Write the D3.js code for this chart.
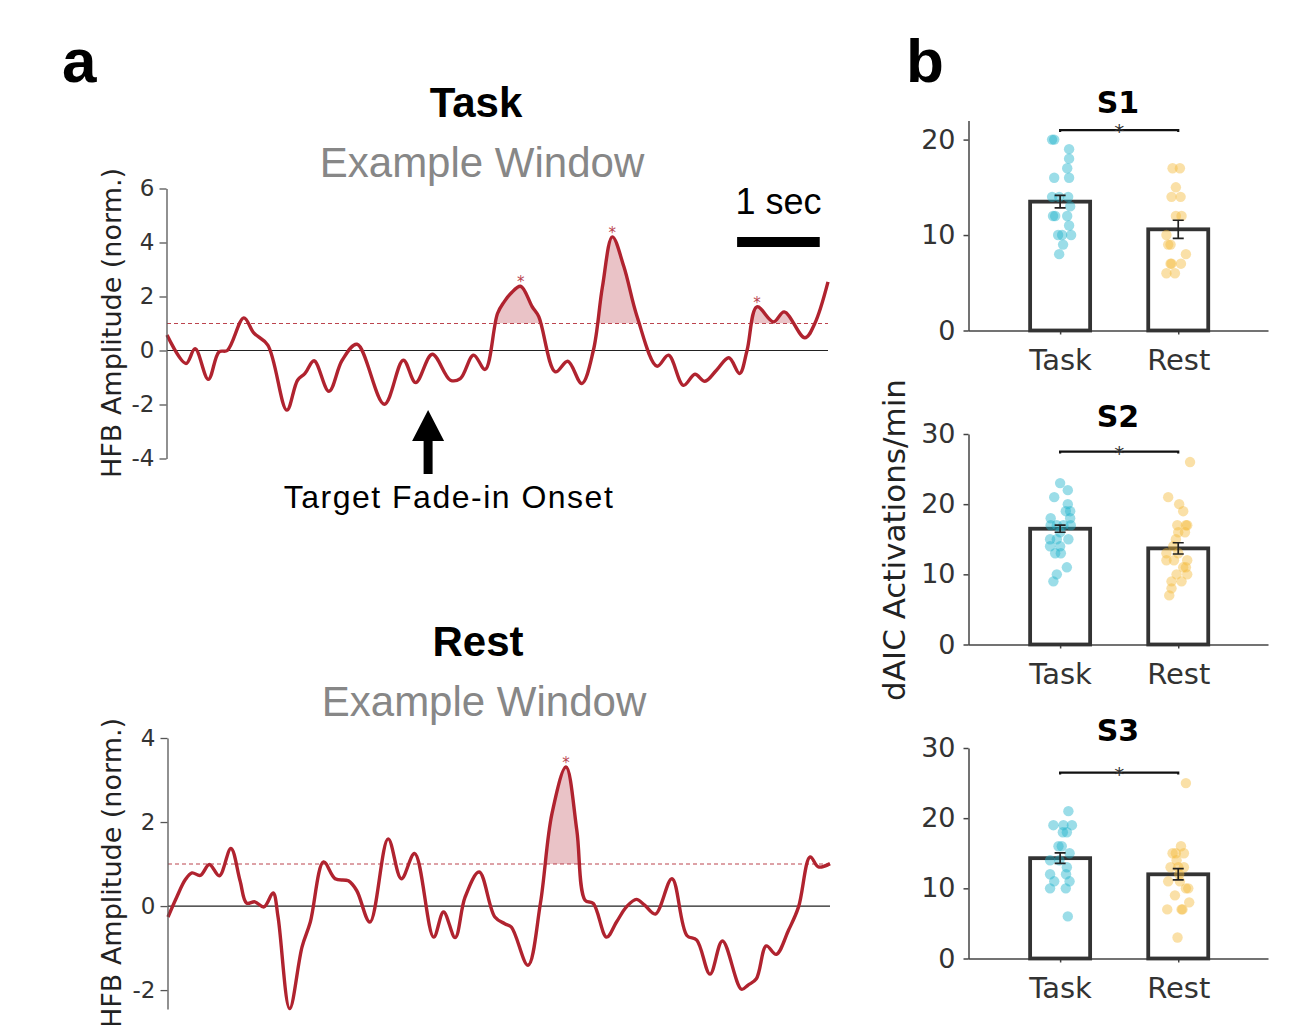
<!DOCTYPE html>
<html>
<head>
<meta charset="utf-8">
<script src="https://cdn.jsdelivr.net/npm/d3@7"></script>
<style>
  body { margin: 0; background: #fff; }
</style>
</head>
<body>
<svg id="fig" width="1295" height="1025"></svg>
<script>
// ---------- data: panel a (HFB traces, seconds / normalised amplitude) ----------
const taskTime = [0.00,0.23,0.34,0.50,0.63,0.73,0.93,1.05,1.22,1.45,1.58,1.67,1.78,1.96,2.12,2.30,2.63,2.86,3.01,3.21,3.43,3.55,3.71,3.85,4.00,4.08,4.16,4.28,4.42,4.50,4.70,4.85,5.02,5.16,5.27,5.39,5.53,5.69,5.93,6.07,6.25,6.39,6.51,6.65,6.80,6.93,7.02,7.14,7.34,7.47,7.72,7.84,8.00];
const taskAmp  = [0.57,-0.48,0.07,-1.07,-0.05,0.00,1.21,0.65,0.20,-2.21,-1.10,-0.85,-0.38,-1.51,-0.36,0.23,-1.99,-0.36,-1.19,-0.14,-1.10,-1.04,-0.17,-0.70,1.37,1.80,2.11,2.38,1.62,1.25,-0.79,-0.40,-1.22,0.00,2.36,4.21,3.10,1.25,-0.58,-0.17,-1.29,-0.88,-1.14,-0.73,-0.27,-0.85,0.00,1.62,1.06,1.43,0.47,1.00,2.54];
const taskEvents = [[3.95, 4.58], [5.18, 5.72], [7.05, 7.75]];

const restTime = [0.00,0.105,0.21,0.29,0.39,0.50,0.62,0.76,0.87,0.95,1.05,1.16,1.27,1.33,1.47,1.62,1.72,1.88,2.02,2.18,2.28,2.44,2.66,2.82,2.98,3.21,3.33,3.47,3.59,3.76,3.95,4.07,4.15,4.35,4.50,4.64,4.81,4.94,5.04,5.14,5.30,5.42,5.54,5.66,5.76,5.89,6.09,6.27,6.39,6.55,6.70,6.93,7.01,7.11,7.23,7.35,7.50,7.62,7.76,7.86,8.00];
const restAmp  = [-0.26,0.21,0.63,0.79,0.73,0.99,0.72,1.37,0.61,0.07,0.10,-0.02,0.31,-0.26,-2.44,-0.97,-0.38,1.05,0.65,0.60,0.37,-0.38,1.60,0.65,1.25,-0.74,-0.14,-0.75,0.21,0.81,-0.26,-0.42,-0.50,-1.41,0.06,2.20,3.31,1.81,0.14,0.06,-0.74,-0.38,-0.02,0.16,0.02,-0.19,0.65,-0.70,-0.81,-1.62,-0.83,-1.98,-1.88,-1.73,-0.95,-1.15,-0.57,-0.02,1.17,0.93,1.01];
const restEvents = [[4.50, 5.00]];

const threshold = 1;
const taskTicks = [-4, -2, 0, 2, 4, 6];
const restTicks = [-2, 0, 2, 4];

// ---------- data: panel b (dAIC activations / min) ----------
const conditions = ["Task", "Rest"];
const subjects = ["S1", "S2", "S3"];
const barMeans = [[13.5, 10.6], [16.5, 13.7], [14.3, 12.0]];
const barSems  = [[0.65, 0.95], [0.5, 0.8], [0.75, 0.8]];
const barYMax  = [22, 30, 30];
const barTicks = [[0, 10, 20], [0, 10, 20, 30], [0, 10, 20, 30]];
const sigY     = [21, 27.5, 26.5];

const s1Task = [20,20,19,18,17,16,16,14,14,14,13,12,12,12,11,10,10,10,9,8];
const s1TaskJit = [-0.068,-0.05,0.076,0.076,0.06,-0.05,0.076,-0.068,-0.008,0.068,0.085,-0.06,-0.042,0.06,0.076,-0.017,0.017,0.093,0.025,-0.008];
const s1Rest = [17,17,15,14,14,12,12,10,9,9,8,7,7,7,6,6];
const s1RestJit = [-0.048,0.014,-0.02,-0.057,0.02,-0.02,0.028,-0.1,-0.085,-0.065,0.065,-0.065,-0.057,0.023,-0.1,-0.028];
const s2Task = [23,22,21,20,19,19,18,18,17,17,17,17,16,15,15,15,14,14,13,13,11,10,9];
const s2TaskJit = [0,0.065,-0.05,0.065,0.048,0.085,-0.08,0.085,-0.08,-0.028,0.028,0.09,0,-0.085,-0.028,0.07,-0.085,0,-0.042,0.006,0.057,-0.028,-0.057];
const s2Rest = [26,21,20,19,17,17,17,16,16,15,14,13,13,12,12,12,11,11,10,10,9,9,8,7];
const s2RestJit = [0.1,-0.085,0.008,0.042,-0.008,0.065,0.076,0,0.057,-0.02,-0.042,-0.1,0,-0.1,-0.036,0.076,0.042,0.065,-0.014,0.076,-0.057,0.028,-0.057,-0.076];
const s3Task = [21,19,19,19,18,18,16,16,15,14,14,13,12,12,11,11,10,10,6];
const s3TaskJit = [0.07,-0.057,0.028,0.1,0.023,0.057,-0.014,0.014,0.08,-0.085,-0.006,0.057,-0.085,0.05,-0.05,0.08,-0.085,0.048,0.065];
const s3Rest = [25,16,15,15,15,14,13,13,13,12,11,11,10,10,9,8,7,7,7,3];
const s3RestJit = [0.065,0.023,-0.048,-0.02,0.048,-0.014,-0.065,0,0.048,0.008,-0.085,0.014,0.065,0.085,-0.028,0.093,-0.093,0.028,0.036,-0.006];

const dots = [[s1Task, s1TaskJit, s1Rest, s1RestJit],
              [s2Task, s2TaskJit, s2Rest, s2RestJit],
              [s3Task, s3TaskJit, s3Rest, s3RestJit]];

// ---------- drawing ----------
const svg = d3.select("#fig");
const red = "#b0232f";
const sans = "'Liberation Sans', Arial, sans-serif";
const deja = "'DejaVu Sans', sans-serif";
const dotColor = ["#22b4cb", "#f3bb3c"];

function txt(x, y, s, size, opts = {}) {
  return svg.append("text")
    .attr("x", x).attr("y", y)
    .attr("text-anchor", opts.anchor || "middle")
    .style("font-family", opts.family || sans)
    .style("font-size", size + "px")
    .style("font-weight", opts.bold ? "bold" : "normal")
    .style("fill", opts.fill || "#000")
    .text(s);
}

function drawTrace(p) {
  const x = d3.scaleLinear().domain([0, 8]).range(p.xRange);
  const y = d3.scaleLinear().domain(p.yDomain).range(p.yRange);
  const pts = p.time.map((t, i) => ({ t: t, v: p.amp[i] }));
  const g = svg.append("g");
  const curve = d3.curveCatmullRom.alpha(0.5);

  // clip: above threshold, only inside detected events
  const clipId = "clip" + p.id;
  const clip = svg.append("clipPath").attr("id", clipId);
  clip.selectAll("rect").data(p.events).enter().append("rect")
    .attr("x", d => x(d[0]))
    .attr("width", d => x(d[1]) - x(d[0]))
    .attr("y", p.yRange[1] - 40)
    .attr("height", y(threshold) - p.yRange[1] + 40);

  g.append("path")
    .datum(pts)
    .attr("clip-path", "url(#" + clipId + ")")
    .attr("fill", red).attr("fill-opacity", 0.27)
    .attr("d", d3.area().x(d => x(d.t)).y0(y(threshold)).y1(d => y(d.v)).curve(curve));

  // zero line + threshold
  g.append("line")
    .attr("x1", x(0)).attr("x2", x(8)).attr("y1", y(0)).attr("y2", y(0))
    .attr("stroke", "#222").attr("stroke-width", 1.2);
  g.append("line")
    .attr("x1", x(0)).attr("x2", x(8)).attr("y1", y(threshold)).attr("y2", y(threshold))
    .attr("stroke", red).attr("stroke-opacity", 0.85)
    .attr("stroke-width", 1.1).attr("stroke-dasharray", "4,3");

  g.append("path")
    .datum(pts)
    .attr("fill", "none").attr("stroke", red).attr("stroke-width", 3.4)
    .attr("stroke-linejoin", "round")
    .attr("d", d3.line().x(d => x(d.t)).y(d => y(d.v)).curve(curve));

  // event peak markers
  p.events.forEach(e => {
    const inside = pts.filter(d => d.t >= e[0] && d.t <= e[1]);
    const peak = inside.reduce((a, b) => (b.v > a.v ? b : a));
    g.append("text")
      .attr("x", x(peak.t)).attr("y", y(peak.v) + 1)
      .attr("text-anchor", "middle")
      .style("font-family", deja).style("font-size", "15px")
      .style("fill", red).style("opacity", 0.85)
      .text("*");
  });

  // y axis
  const ax = g.append("g")
    .attr("transform", "translate(" + (x(0) - 0.5) + ",0)")
    .call(d3.axisLeft(y).tickValues(p.ticks).tickSize(7).tickSizeOuter(0).tickPadding(5)
      .tickFormat(d => String(d)));
  ax.select(".domain").attr("stroke", "#555").attr("stroke-width", 1.3);
  ax.selectAll(".tick line").attr("stroke", "#555").attr("stroke-width", 1.3);
  ax.selectAll("text").style("font-family", deja).style("font-size", "23px").style("fill", "#333");

  svg.append("text")
    .attr("transform", "translate(121," + p.labelY + ") rotate(-90)")
    .attr("text-anchor", "middle")
    .style("font-family", deja).style("font-size", "27px").style("fill", "#222")
    .text("HFB Amplitude (norm.)");

  txt(p.titleX, p.titleY, p.title, 42, { bold: true });
  txt(p.titleX + 6, p.titleY + 60, "Example Window", 42, { fill: "#878787" });
  return x;
}

const xTask = drawTrace({
  id: "task", time: taskTime, amp: taskAmp, events: taskEvents,
  xRange: [167, 828], yDomain: [-4, 6], yRange: [458.5, 188.5], ticks: taskTicks,
  labelY: 323, title: "Task", titleX: 476, titleY: 117
});
drawTrace({
  id: "rest", time: restTime, amp: restAmp, events: restEvents,
  xRange: [168, 830], yDomain: [-2.45, 4], yRange: [1009, 738], ticks: restTicks,
  labelY: 873, title: "Rest", titleX: 478, titleY: 656
});

// scale bar (1 s)
svg.append("rect")
  .attr("x", xTask(6.9)).attr("y", 237)
  .attr("width", xTask(1) - xTask(0)).attr("height", 10)
  .attr("fill", "#000");
txt(xTask(6.9) + (xTask(1) - xTask(0)) / 2, 214, "1 sec", 36);

// target onset arrow
const ax0 = xTask(3.16);
svg.append("path")
  .attr("d", `M${ax0},410 L${ax0 + 16},441 L${ax0 + 4.5},441 L${ax0 + 4.5},474 L${ax0 - 4.5},474 L${ax0 - 4.5},441 L${ax0 - 16},441 Z`)
  .attr("fill", "#000");
txt(449, 508, "Target Fade-in Onset", 32).style("letter-spacing", "1.5px");

// panel letters
txt(62, 82, "a", 62, { bold: true, anchor: "start" });
txt(906, 82, "b", 62, { bold: true, anchor: "start" });

// ---------- panel b ----------
const xb = d3.scaleLinear().domain([0.22, 2.76]).range([968, 1268]);
const barTop = [120.5, 434, 748];
const barBase = [330.5, 644.5, 958.5];

subjects.forEach((s, k) => {
  const y = d3.scaleLinear().domain([0, barYMax[k]]).range([barBase[k], barTop[k]]);
  const g = svg.append("g");

  const yAx = g.append("g").attr("transform", "translate(968.5,0)")
    .call(d3.axisLeft(y).tickValues(barTicks[k]).tickSize(5).tickSizeOuter(0).tickPadding(8));
  const xAx = g.append("g").attr("transform", "translate(0," + barBase[k] + ")")
    .call(d3.axisBottom(xb).tickValues([1, 2]).tickFormat(i => conditions[i - 1])
      .tickSize(4).tickSizeOuter(0).tickPadding(15));
  [yAx, xAx].forEach(a => {
    a.select(".domain").attr("stroke", "#444").attr("stroke-width", 1.5);
    a.selectAll(".tick line").attr("stroke", "#444").attr("stroke-width", 1.5);
    a.selectAll("text").style("font-family", deja).style("font-size", "27px").style("fill", "#333");
  });
  xAx.selectAll("text").style("font-size", "29px");

  // bars
  g.selectAll("rect.bar").data(barMeans[k]).enter().append("rect")
    .attr("class", "bar")
    .attr("x", (d, i) => xb(i + 1) - 30).attr("width", 60)
    .attr("y", d => y(d)).attr("height", d => y(0) - y(d))
    .attr("fill", "#fff").attr("stroke", "#333").attr("stroke-width", 3.8);

  // individual points
  [0, 1].forEach(c => {
    const vals = dots[k][c * 2], jit = dots[k][c * 2 + 1];
    g.selectAll("circle.c" + c).data(vals).enter().append("circle")
      .attr("class", "c" + c)
      .attr("cx", (d, i) => xb(c + 1 + jit[i]))
      .attr("cy", d => y(d))
      .attr("r", 5.2)
      .attr("fill", dotColor[c]).attr("fill-opacity", 0.45);
  });

  // error bars
  barMeans[k].forEach((m, i) => {
    const cx = xb(i + 1), e = barSems[k][i];
    g.append("path")
      .attr("d", `M${cx - 5.5},${y(m + e)} H${cx + 5.5} M${cx},${y(m + e)} V${y(m - e)} M${cx - 5.5},${y(m - e)} H${cx + 5.5}`)
      .attr("fill", "none").attr("stroke", "#222").attr("stroke-width", 1.7);
  });

  // significance bracket
  const sy = y(sigY[k]);
  g.append("path")
    .attr("d", `M${xb(1)},${sy + 2} V${sy} H${xb(2)} V${sy + 2}`)
    .attr("fill", "none").attr("stroke", "#111").attr("stroke-width", 2.2);
  g.append("text")
    .attr("x", (xb(1) + xb(2)) / 2).attr("y", sy + 8)
    .attr("text-anchor", "middle")
    .style("font-family", deja).style("font-size", "20px").style("fill", "#333")
    .text("*");

  txt(1118, barTop[k] - 7.5, s, 30, { bold: true, family: deja });
});

svg.append("text")
  .attr("transform", "translate(905,540) rotate(-90)")
  .attr("text-anchor", "middle")
  .style("font-family", deja).style("font-size", "31px").style("fill", "#222")
  .text("dAIC Activations/min");
</script>
</body>
</html>
